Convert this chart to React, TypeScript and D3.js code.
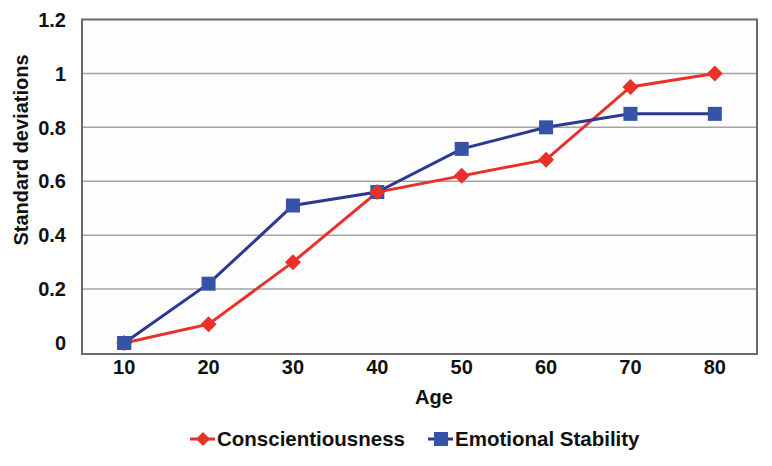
import React from "react";
import * as d3 from "d3";

const ages: string[] = ["10", "20", "30", "40", "50", "60", "70", "80"];
const conscientiousness: number[] = [0, 0.07, 0.3, 0.56, 0.62, 0.68, 0.95, 1.0];
const emotionalStability: number[] = [0, 0.22, 0.51, 0.56, 0.72, 0.8, 0.85, 0.85];
const yTicks: number[] = [0, 0.2, 0.4, 0.6, 0.8, 1, 1.2];
const seriesNames: string[] = ["Conscientiousness", "Emotional Stability"];

const W = 772;
const H = 466;
const left = 82;
const right = 757;
const top = 19.5;
const zeroY = 343;
const bottom = 354;

const RED = "#e8312b";
const NAVY = "#2b3990";
const BLUE = "#3553a8";
const FONT = "'Liberation Sans', Arial, Helvetica, sans-serif";

export default function App() {
  const x = d3.scaleBand<string>().domain(ages).range([left, right]).paddingInner(0).paddingOuter(0);
  const cx = (a: string) => (x(a) as number) + x.bandwidth() / 2;
  const y = d3.scaleLinear().domain([0, 1.2]).range([zeroY, top]);

  const line = d3
    .line<number>()
    .x((_, i) => cx(ages[i]))
    .y((d) => y(d));

  const diamond = (px: number, py: number, r: number) =>
    `M${px},${py - r}L${px + r},${py}L${px},${py + r}L${px - r},${py}Z`;

  return (
    <svg
      width={W}
      height={H}
      style={{ position: "absolute", left: 0, top: 0, background: "#ffffff" }}
      fontFamily={FONT}
    >
      <rect x={left} y={top} width={right - left} height={bottom - top} fill="#fdfdfd" />
      {yTicks.map((t) => (
        <g key={t}>
          {t > 0 && t < 1.2 && (
            <line x1={left} x2={right} y1={y(t)} y2={y(t)} stroke="#a3a3a3" strokeWidth={1.5} />
          )}
          <text
            x={66}
            y={y(t)}
            dy="0.36em"
            textAnchor="end"
            fontSize={20}
            fontWeight="bold"
            fill="#111"
          >
            {d3.format("~g")(t)}
          </text>
        </g>
      ))}
      <rect
        x={left}
        y={top}
        width={right - left}
        height={bottom - top}
        fill="none"
        stroke="#6a6a6a"
        strokeWidth={2}
      />
      {ages.map((a) => (
        <text
          key={a}
          x={cx(a)}
          y={374}
          textAnchor="middle"
          fontSize={20}
          fontWeight="bold"
          fill="#111"
        >
          {a}
        </text>
      ))}
      <text x={434} y={404} textAnchor="middle" fontSize={20} fontWeight="bold" fill="#111">
        Age
      </text>
      <text
        transform={`translate(28,150) rotate(-90)`}
        textAnchor="middle"
        fontSize={20}
        fontWeight="bold"
        fill="#111"
      >
        Standard deviations
      </text>

      <path d={line(conscientiousness) || ""} fill="none" stroke={RED} strokeWidth={3} />
      <path d={line(emotionalStability) || ""} fill="none" stroke={NAVY} strokeWidth={3} />
      {emotionalStability.map((v, i) => (
        <rect key={"b" + i} x={cx(ages[i]) - 7} y={y(v) - 7} width={14} height={14} fill={BLUE} />
      ))}
      {conscientiousness.map((v, i) =>
        i === 0 ? null : <path key={"r" + i} d={diamond(cx(ages[i]), y(v), 8)} fill={RED} />
      )}
      <path d={diamond(cx(ages[0]), y(conscientiousness[0]), 8)} fill={RED} />
      <rect x={cx(ages[0]) - 7} y={y(emotionalStability[0]) - 7} width={14} height={14} fill={BLUE} />

      {/* legend */}
      <g>
        <line x1={190} x2={215} y1={439} y2={439} stroke={RED} strokeWidth={3} />
        <path d={diamond(203, 439, 7)} fill={RED} />
        <text x={217} y={446} fontSize={20.5} fontWeight="bold" fill="#111">
          {seriesNames[0]}
        </text>
        <line x1={428} x2={453} y1={439} y2={439} stroke={NAVY} strokeWidth={3} />
        <rect x={434} y={432} width={14} height={14} fill={BLUE} />
        <text x={455} y={446} fontSize={20.5} fontWeight="bold" fill="#111">
          {seriesNames[1]}
        </text>
      </g>
    </svg>
  );
}
